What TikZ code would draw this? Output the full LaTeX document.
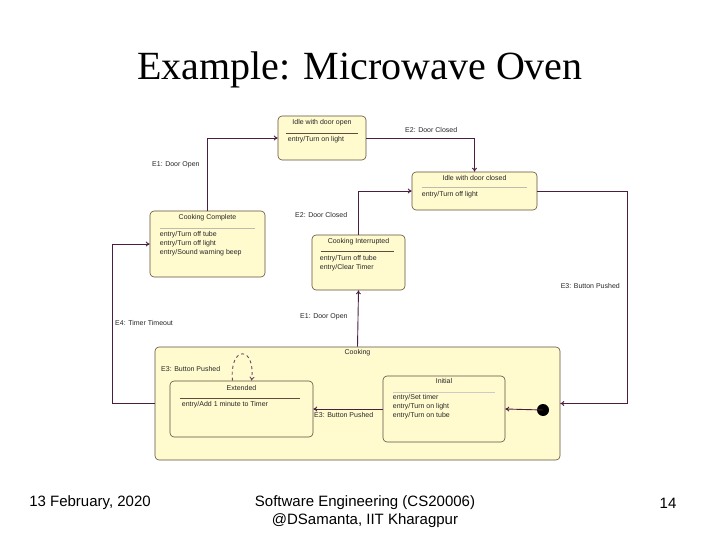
\documentclass[tikz,border=0pt]{standalone}
\usepackage{fontspec}
\setmainfont{Liberation Serif}
\newfontfamily\arialfont{Liberation Sans}
\usepackage{tikz}
\usetikzlibrary{arrows.meta,positioning,calc}
\usepackage{xcolor}
\definecolor{stateyellow}{HTML}{FFFBCF}
\definecolor{boxline}{HTML}{5E4F3A}
\definecolor{connline}{HTML}{4A1E40}

\tikzset{
  statebox/.style={draw=boxline, fill=stateyellow, rounded corners=4pt, line width=0.6pt, inner sep=0pt},
  stname/.style={font=\arialfont\fontsize{7}{8}\selectfont, inner sep=0pt, text=black!85},
  entrytxt/.style={font=\arialfont\fontsize{7}{8.6}\selectfont, inner sep=0pt, align=left, text=black!85},
  evlabel/.style={font=\arialfont\fontsize{7}{8}\selectfont, inner sep=0pt, text=black!85},
  sepline/.style={draw=boxline, line width=0.6pt},
  conn/.style={draw=connline, line width=0.9pt, ->, >={To[length=4pt,width=5pt]}},
}

\begin{document}
\begin{tikzpicture}[x=1pt, y=-1pt]
  \useasboundingbox (0,0) rectangle (720,540);
  % Title
  \node[font=\fontsize{40}{44}\selectfont] (title) at (360,70) {Example: Microwave Oven};

  % Idle states
  \node[statebox, minimum width=88, minimum height=44] (idleopen) at (322,138) {};
  \node[stname, below=4pt of idleopen.north] (idleopenT) {Idle with door open};
  \draw[sepline] ([xshift=8pt,yshift=-18pt]idleopen.north west) -- ([xshift=-8pt,yshift=-18pt]idleopen.north east);
  \node[entrytxt, anchor=north west] (idleopenE) at ([xshift=10pt,yshift=-21pt]idleopen.north west) {entry/Turn on light};

  \node[statebox, minimum width=125, minimum height=38] (idleclosed) at (474.5,191) {};
  \node[stname, below=4pt of idleclosed.north] (idleclosedT) {Idle with door closed};
  \draw[sepline, draw=boxline!40] ([xshift=10pt,yshift=-16pt]idleclosed.north west) -- ([xshift=-10pt,yshift=-16pt]idleclosed.north east);
  \node[entrytxt, anchor=north west] (idleclosedE) at ([xshift=10pt,yshift=-20pt]idleclosed.north west) {entry/Turn off light};

  % Cooking complete / interrupted
  \node[statebox, minimum width=115, minimum height=66] (cplt) at (207.5,244) {};
  \node[stname, below=4pt of cplt.north] (cpltT) {Cooking Complete};
  \draw[sepline, draw=boxline!40] ([xshift=10pt,yshift=-18pt]cplt.north west) -- ([xshift=-10pt,yshift=-18pt]cplt.north east);
  \node[entrytxt, anchor=north west] (cpltE) at ([xshift=10pt,yshift=-21pt]cplt.north west)
    {entry/Turn off tube\\entry/Turn off light\\entry/Sound warning beep};

  \node[statebox, minimum width=93, minimum height=55] (intr) at (358.5,262.5) {};
  \node[stname, below=4pt of intr.north] (intrT) {Cooking Interrupted};
  \draw[sepline] ([xshift=9pt,yshift=-17pt]intr.north west) -- ([xshift=-11pt,yshift=-17pt]intr.north east);
  \node[entrytxt, anchor=north west] (intrE) at ([xshift=8pt,yshift=-21pt]intr.north west)
    {entry/Turn off tube\\entry/Clear Timer};

  % Composite Cooking state
  \node[statebox, minimum width=405, minimum height=113] (cooking) at (357.5,403.5) {};
  \node[stname, below=3pt of cooking.north] (cookingT) {Cooking};

  \node[statebox, minimum width=143, minimum height=56] (ext) at (241.5,409) {};
  \node[stname, below=5pt of ext.north] (extT) {Extended};
  \draw[sepline] ([xshift=10pt,yshift=-18pt]ext.north west) -- ([xshift=-13pt,yshift=-18pt]ext.north east);
  \node[entrytxt, anchor=north west] (extE) at ([xshift=12pt,yshift=-21pt]ext.north west) {entry/Add 1 minute to Timer};

  \node[statebox, minimum width=122, minimum height=66] (init) at (444,409) {};
  \node[stname, below=3pt of init.north] (initT) {Initial};
  \draw[sepline, draw=boxline!30] ([xshift=10pt,yshift=-17pt]init.north west) -- ([xshift=-10pt,yshift=-17pt]init.north east);
  \node[entrytxt, anchor=north west] (initE) at ([xshift=10pt,yshift=-19pt]init.north west)
    {entry/Set timer\\entry/Turn on light\\entry/Turn on tube};

  \fill[black] (543,410) circle (6) coordinate (start);

  % Transitions
  \coordinate (bendR) at (627,191);
  \coordinate (bendL) at (112,244);
  \draw[conn] (cplt.north) |- (idleopen.west);
  \draw[conn] (idleopen.east) -| (idleclosed.north);
  \draw[conn] (intr.north) |- (idleclosed.west);
  \draw[conn] (idleclosed.east) -- (bendR) |- (cooking.east);
  \draw[conn] (cooking.west) -| (bendL) -- (cplt.west);
  \draw[conn] (cooking.north) -- (intr.south);
  \draw[conn] (start) -- (init.east);
  \draw[conn] (init.west) -- (ext.east);
  \draw[conn, dashed, connline!80] ([xshift=-9pt]ext.north) .. controls (229,345) and (256,345) .. ([xshift=10pt]ext.north);

  % Event labels
  \node[evlabel, anchor=west] (lblA) at (152,165) {E1: Door Open};
  \node[evlabel, anchor=west] (lblB) at (405,130) {E2: Door Closed};
  \node[evlabel, anchor=west] (lblC) at (295,215) {E2: Door Closed};
  \node[evlabel, anchor=west] (lblD) at (300,317) {E1: Door Open};
  \node[evlabel, anchor=east] (lblE) at (620,286) {E3: Button Pushed};
  \node[evlabel, anchor=west] (lblF) at (115,323) {E4: Timer Timeout};
  \node[evlabel, anchor=west] (lblG) at (161,369) {E3: Button Pushed};
  \node[evlabel, anchor=west] (lblH) at (314,415) {E3: Button Pushed};

  % Footer
  \node[font=\arialfont\fontsize{15}{18}\selectfont] (date) at (90,503) {13 February, 2020};
  \node[font=\arialfont\fontsize{15}{18}\selectfont, align=center] (course) at (365,512)
    {Software Engineering (CS20006)\\@DSamanta, IIT Kharagpur};
  \node[font=\arialfont\fontsize{15}{18}\selectfont] (page) at (668,503) {14};
\end{tikzpicture}
\end{document}
